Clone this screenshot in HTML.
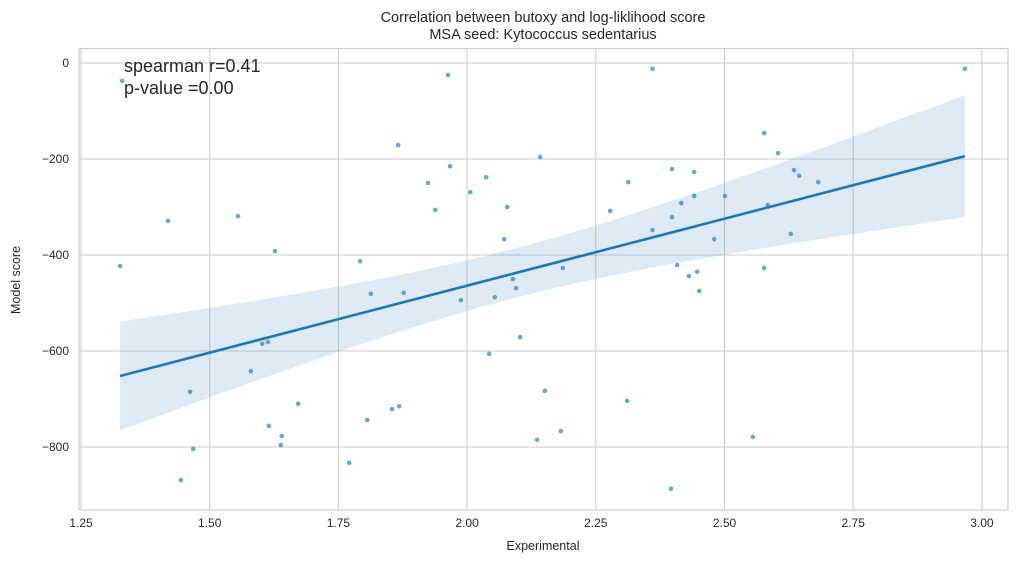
<!DOCTYPE html>
<html><head><meta charset="utf-8"><style>
body{margin:0;background:#fff;font-family:"Liberation Sans","DejaVu Sans",sans-serif}
svg{display:block}
</style></head><body>
<svg id="chart" width="1017" height="563" font-family="Liberation Sans, DejaVu Sans, sans-serif">
<text x="543" y="22" text-anchor="middle" font-size="14.5" fill="#262626">Correlation between butoxy and log-liklihood score</text>
<text x="543" y="39" text-anchor="middle" font-size="14.5" fill="#262626">MSA seed: Kytococcus sedentarius</text>
<text x="543" y="550" text-anchor="middle" font-size="12.5" fill="#262626">Experimental</text>
<text x="20" y="280" text-anchor="middle" font-size="12.5" fill="#262626" transform="rotate(-90 20 280)">Model score</text>
<g id="grid"></g><g id="band"></g><g id="pts"></g><g id="line"></g>
<rect x="79" y="48.5" width="929" height="461.5" fill="none" stroke="#ccc" stroke-width="1.2"/>
<text x="124" y="72" font-size="18" fill="#262626">spearman r=0.41</text>
<text x="124" y="94" font-size="18" fill="#262626">p-value =0.00</text>
</svg>
<script>
const xTicks=[1.25,1.5,1.75,2.0,2.25,2.5,2.75,3.0];
const xTickLabels=["1.25","1.50","1.75","2.00","2.25","2.50","2.75","3.00"];
const yTicks=[0,-200,-400,-600,-800];
const yTickLabels=["0","−200","−400","−600","−800"];
const xs=[1.330,1.326,1.419,1.462,1.468,1.444,1.555,1.580,1.627,1.602,1.613,1.615,1.640,1.638,1.672,1.771,1.792,1.813,1.806,1.854,1.868,1.866,1.877,1.924,1.938,1.963,1.967,1.988,2.006,2.037,2.043,2.054,2.078,2.072,2.089,2.095,2.103,2.142,2.136,2.151,2.182,2.186,2.278,2.313,2.311,2.360,2.360,2.398,2.398,2.396,2.408,2.416,2.431,2.441,2.441,2.447,2.451,2.480,2.501,2.555,2.577,2.577,2.584,2.604,2.629,2.635,2.645,2.682,2.967];
const ys=[-37,-423,-329,-685,-804,-869,-319,-642,-392,-585,-581,-756,-777,-796,-710,-833,-413,-481,-744,-721,-715,-171,-479,-250,-306,-25,-215,-494,-269,-238,-606,-488,-300,-367,-450,-469,-571,-196,-785,-683,-767,-427,-308,-248,-704,-12,-348,-221,-321,-887,-421,-292,-444,-227,-277,-435,-475,-367,-277,-779,-146,-427,-296,-188,-356,-223,-235,-248,-12];
// fitted regression line as shown in the figure (endpoints x, y)
const fitX=[1.326,2.967];
const fitY=[-652,-194];
const NS="http://www.w3.org/2000/svg";
const X=v=>81+(v-1.25)*514.8, Y=v=>63-v*0.48;
function mk(t,a,p){const e=document.createElementNS(NS,t);for(const k in a)e.setAttribute(k,a[k]);p.appendChild(e);return e;}
const grid=document.getElementById('grid');
xTicks.forEach((t,i)=>{
 const l=mk('line',{x1:X(t),x2:X(t),y1:48,y2:510,stroke:'#ccc'},grid);
 
 const tx=mk('text',{x:X(t),y:527,'text-anchor':'middle','font-size':12,fill:'#262626'},grid);
 tx.textContent=xTickLabels[i];
 
});
yTicks.forEach((t,i)=>{
 const l=mk('line',{x1:79,x2:1008,y1:Y(t),y2:Y(t),stroke:'#ccc'},grid);
 
 const tx=mk('text',{x:69,y:Y(t)+4,'text-anchor':'end','font-size':12,fill:'#262626'},grid);
 tx.textContent=yTickLabels[i];
 
});
const n=xs.length,xm=xs.reduce((a,b)=>a+b)/n;
const b=(fitY[1]-fitY[0])/(fitX[1]-fitX[0]),a=fitY[0]-b*fitX[0];
let sxx=0,sse=0;for(let i=0;i<n;i++){sxx+=(xs[i]-xm)**2;sse+=(ys[i]-a-b*xs[i])**2;}
const s=Math.sqrt(sse/(n-2));
const x0=Math.min(...xs),x1=Math.max(...xs);
let up=[],lo=[];
for(let k=0;k<=60;k++){const x=x0+(x1-x0)*k/60,yh=a+b*x,h=1.997*s*Math.sqrt(1/n+(x-xm)**2/sxx);
 up.push(X(x)+','+Y(yh+h));lo.unshift(X(x)+','+Y(yh-h));}
const band=mk('polygon',{points:up.concat(lo).join(' '),fill:'#1f77b4','fill-opacity':0.15},document.getElementById('band'));

const pts=document.getElementById('pts');
for(let i=0;i<n;i++){const c=mk('circle',{cx:X(xs[i]),cy:Y(ys[i]),r:2.3,fill:'#1f77b4','fill-opacity':0.65},pts);
 }
const ln=mk('line',{x1:X(fitX[0]),y1:Y(fitY[0]),x2:X(fitX[1]),y2:Y(fitY[1]),stroke:'#1f77b4','stroke-width':2.6},document.getElementById('line'));

</script>
</body></html>
